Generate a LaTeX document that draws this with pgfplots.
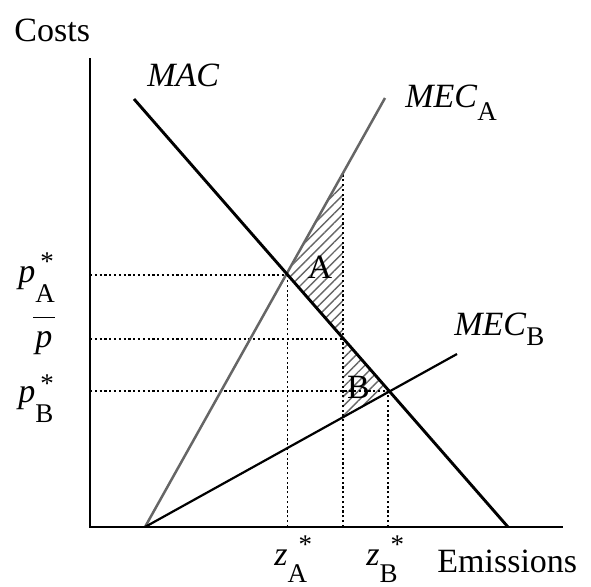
\documentclass[border=0pt]{standalone}
\usepackage{fontspec}
\setmainfont{Liberation Serif}
\usepackage{pgfplots}
\pgfplotsset{compat=1.18}
\usetikzlibrary{patterns.meta}
\newcommand{\subf}{\fontsize{13.5}{14}\selectfont}
\newcommand{\starsub}[5]{\textit{#1}\makebox[0pt][l]{\hspace{#3}\raisebox{#4}{\subf*}}\raisebox{#5}{\subf #2}}
\begin{document}
\begin{tikzpicture}[font=\fontsize{17}{20}\selectfont]
\begin{axis}[
  scale only axis, width=295.5pt, height=293pt,
  xmin=0, xmax=591, ymin=-59, ymax=527,
  hide axis, clip=false,
]
\path (axis cs:0,-59) rectangle (axis cs:591,527);
% hatched regions
\addplot[draw=none, pattern={Lines[angle=45,distance=3.4pt,line width=0.7pt]}, pattern color=black!60]
  coordinates {(287.5,252) (343,354) (343,188)} -- cycle;
\addplot[draw=none, pattern={Lines[angle=45,distance=3.4pt,line width=0.7pt]}, pattern color=black!60]
  coordinates {(343,188) (343,110) (388,136)} -- cycle;
% dotted guides
\pgfplotsset{guide/.style={black, line width=0.55pt, dash pattern=on 1.1pt off 1.3pt}}
\addplot[guide] coordinates {(90,252) (287.5,252)};
\addplot[guide] coordinates {(90,188) (343,188)};
\addplot[guide] coordinates {(90,136) (388,136)};
\addplot[guide] coordinates {(287.5,0) (287.5,252)};
\addplot[guide] coordinates {(343,0) (343,354)};
\addplot[guide] coordinates {(388,0) (388,136)};
% curves
\addplot[black!60, line width=1.25pt] coordinates {(145,0) (385,429)};
\addplot[black, line width=1.1pt] coordinates {(145,0) (457,173)};
\addplot[black, line width=1.45pt] coordinates {(134,428) (508,0)};
% axes
\addplot[black, line width=1.3pt] coordinates {(90,469) (90,0) (563,0)};
% labels
\node[anchor=base west, inner sep=0pt] at (axis cs:14,486) {Costs};
\node[anchor=base west, inner sep=0pt] at (axis cs:147,441) {\textit{MAC}};
\node[anchor=base west, inner sep=0pt] at (axis cs:405,420) {\textit{MEC}\raisebox{-6.5pt}{\subf A}};
\node[anchor=base west, inner sep=0pt] at (axis cs:454,192) {\textit{MEC}\raisebox{-5pt}{\subf B}};
\node[anchor=base, inner sep=0pt] at (axis cs:320,249) {A};
\node[anchor=base, inner sep=0pt] at (axis cs:358.5,129) {B};
\node[anchor=base west, inner sep=0pt] at (axis cs:18,245) {\starsub{p}{A}{2.5pt}{6pt}{-10pt}};
\node[anchor=base west, inner sep=0pt] at (axis cs:35,180) {\rlap{\hspace{-1pt}\raisebox{14.5pt}{\rule{11pt}{0.7pt}}}\textit{p}};
\node[anchor=base west, inner sep=0pt] at (axis cs:18,125) {\starsub{p}{B}{2.5pt}{5pt}{-10pt}};
\node[anchor=base west, inner sep=0pt] at (axis cs:274,-38) {\starsub{z}{A}{5.5pt}{6pt}{-8.5pt}};
\node[anchor=base west, inner sep=0pt] at (axis cs:366,-38) {\starsub{z}{B}{5.5pt}{6pt}{-8.5pt}};
\node[anchor=base west, inner sep=0pt] at (axis cs:437,-45) {Emissions};
\end{axis}
\end{tikzpicture}
\end{document}
